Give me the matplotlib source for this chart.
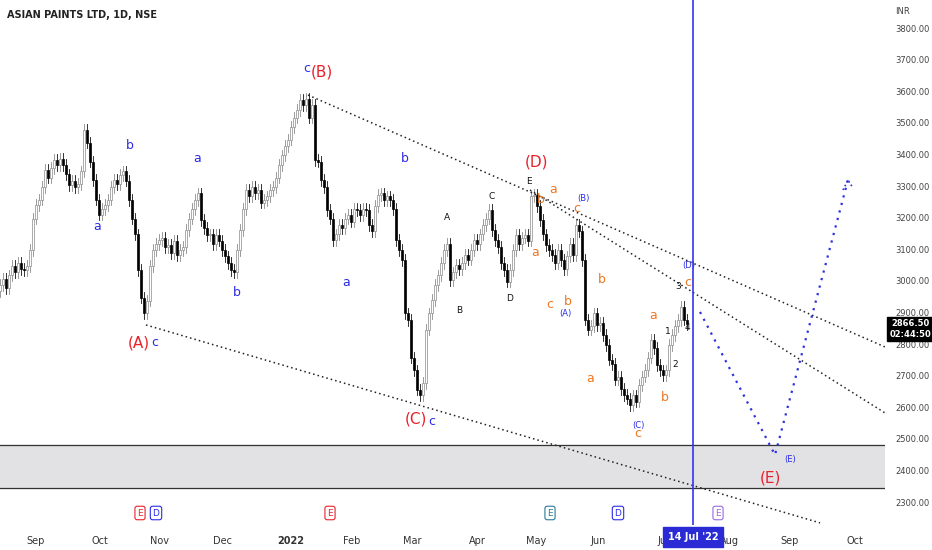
import matplotlib
matplotlib.use("Agg")
import matplotlib.pyplot as plt
from matplotlib.patches import Rectangle
import numpy as np

closes = [2990,3010,2980,3020,3050,3030,3060,3040,3037,3050,
3100,3200,3243,3260,3300,3354,3330,3360,3385,3370,
3390,3370,3340,3306,3320,3300,3310,3350,3480,3440,
3380,3322,3260,3212,3230,3243,3260,3300,3322,3310,
3338,3350,3320,3259,3200,3150,3037,2950,2900,2940,
3050,3100,3120,3132,3140,3110,3116,3090,3130,3085,
3100,3110,3164,3200,3230,3259,3280,3196,3170,3148,
3150,3120,3148,3130,3100,3080,3060,3037,3030,3100,
3164,3230,3290,3270,3300,3280,3290,3250,3259,3270,
3290,3300,3330,3370,3400,3430,3450,3490,3520,3544,
3575,3560,3580,3520,3560,3385,3380,3322,3300,3227,
3200,3132,3150,3180,3170,3200,3212,3190,3230,3227,
3210,3230,3227,3180,3160,3240,3275,3280,3259,3270,
3259,3230,3132,3100,3069,2900,2879,2760,2720,2658,
2640,2680,2848,2900,2942,2990,3020,3060,3100,3120,
3006,3030,3053,3040,3060,3085,3070,3100,3132,3120,
3150,3180,3200,3227,3164,3132,3110,3060,3037,3000,
3037,3100,3148,3120,3140,3148,3130,3270,3275,3240,
3196,3150,3116,3100,3085,3060,3100,3069,3040,3080,
3120,3085,3180,3160,3069,2880,2848,2860,2900,2863,
2870,2832,2800,2753,2740,2690,2700,2660,2642,2630,
2610,2640,2620,2673,2700,2721,2760,2816,2790,2737,
2720,2705,2720,2800,2832,2860,2879,2920,2880,2866.5]
first_open = 2970
month_labels = ["Sep","Oct","Nov","Dec","2022","Feb","Mar","Apr","May","Jun","Jul","Aug","Sep","Oct"]
month_pos = [12,33.3,53.3,74,97,117.3,137.3,159,178.7,199.3,221.3,243.3,263.3,285]
price_ticks = list(range(2300,3900,100))

fig = plt.figure(figsize=(9.32,5.5),dpi=100)
ax = fig.add_axes([0,25/550,885/932,525/550])
ax.set_xlim(0,295)
ax.set_ylim(2230,3892)

opens = [first_open]+closes[:-1]
for i,(o,c) in enumerate(zip(opens,closes)):
    hi = max(o,c)+18; lo = min(o,c)-18
    up = c>=o
    ax.plot([i,i],[lo,hi],color="#8a8a8a" if up else "#111111",lw=0.6,zorder=2)
    ax.add_patch(Rectangle((i-0.4,min(o,c)),0.8,max(abs(c-o),3),
        facecolor="white" if up else "black",edgecolor="#8a8a8a" if up else "black",lw=0.5,zorder=3))

def px(xp): return xp/3
def py(yp): return 3800-(yp-29)/0.316

ax.axhspan(py(488),py(445),color="#e2e2e4",zorder=0)
ax.axhline(py(445),color="#333",lw=0.9); ax.axhline(py(488),color="#333",lw=0.9)

for (x0,y0,x1,y1) in [(308,95,885,347),(530,190,885,413),(146,325,820,523)]:
    ax.plot([px(x0),px(x1)],[py(y0),py(y1)],ls=(0,(1,2)),color="#222",lw=1.1,zorder=4)
ax.plot([px(700),px(775),px(848)],[py(312),py(455),py(180)],ls=(0,(1,2.5)),color="#3030e0",lw=1.6,zorder=4)
ax.plot([px(843),px(848),px(853)],[py(190),py(180),py(188)],color="#3030e0",lw=1.2,ls=(0,(1,1.5)))
ax.axvline(px(693),color="#3333ee",lw=1.2,zorder=5)

R="#e8212b"; B="#2b2be6"; K="#111"; O="#ee7722"
labels = [("(B)",322,72,R,11),("(A)",139,343,R,11),("(C)",416,419,R,11),("(D)",536,162,R,11),("(E)",770,478,R,11),
("c",307,68,B,9),("c",155,343,B,9),("c",432,422,B,9),("b",130,145,B,9),("a",97,227,B,9),("a",197,158,B,9),
("b",237,293,B,9),("b",405,158,B,9),("a",346,283,B,9),
("A",447,218,K,6.5),("B",459,311,K,6.5),("C",492,197,K,6.5),("D",510,299,K,6.5),("E",529,181,K,6.5),
("1",668,332,K,6.5),("2",675,365,K,6.5),("3",678,287,K,6.5),("4",687,328,K,6.5),
("b",541,200,O,9),("a",553,189,O,9),("c",577,209,O,9),("a",535,253,O,9),("c",550,305,O,9),("b",568,302,O,9),
("b",602,280,O,9),("a",590,379,O,9),("a",653,316,O,9),("b",665,398,O,9),("c",638,434,O,9),("c",688,283,O,9),
("(B)",583,199,B,6),("(A)",565,314,B,6),("(C)",638,426,B,6),("(D)",689,266,B,6),("(E)",790,460,B,6)]
for t,x,y,c,s in labels:
    ax.text(px(x),py(y),t,color=c,fontsize=s,ha="center",va="center",zorder=6)

for s in ax.spines.values(): s.set_visible(False)
ax.set_yticks([]); ax.set_xticks(month_pos)
ax.set_xticklabels(month_labels,fontsize=7,color="#333")
for lab in ax.get_xticklabels():
    if lab.get_text()=="2022": lab.set_fontweight("bold")
ax.tick_params(axis="x",length=0,pad=8)
for p in price_ticks:
    fig.text(895/932,1-(29+(3800-p)*0.316)/550,f"{p:.2f}",fontsize=6,color="#444",va="center")
fig.text(895/932,1-12/550,"INR",fontsize=6,color="#444",va="center")
fig.text(7/932,1-15/550,"ASIAN PAINTS LTD, 1D, NSE",fontsize=7,fontweight="bold",color="#222",va="center")
fig.text(910/932,1-329/550,"2866.50\n02:44:50",fontsize=6,color="white",ha="center",va="center",fontweight="bold",
         bbox=dict(boxstyle="square,pad=0.3",fc="black",ec="black"))
fig.text(693/932,1-537/550,"14 Jul '22",fontsize=7,color="white",ha="center",va="center",fontweight="bold",zorder=10,
         bbox=dict(boxstyle="square,pad=0.5",fc="#2b2bd6",ec="#2b2bd6"))
for t,x,c in [("E",140,R),("D",156,B),("E",330,R),("E",550,"#2a7a9a"),("D",618,B),("E",718,"#9a6adf")]:
    fig.text(x/932,1-513/550,t,fontsize=6.5,color=c,ha="center",va="center",
             bbox=dict(boxstyle="round,pad=0.25",fc="white",ec=c,lw=0.8))
fig.savefig("out.png",dpi=100,facecolor="white")
